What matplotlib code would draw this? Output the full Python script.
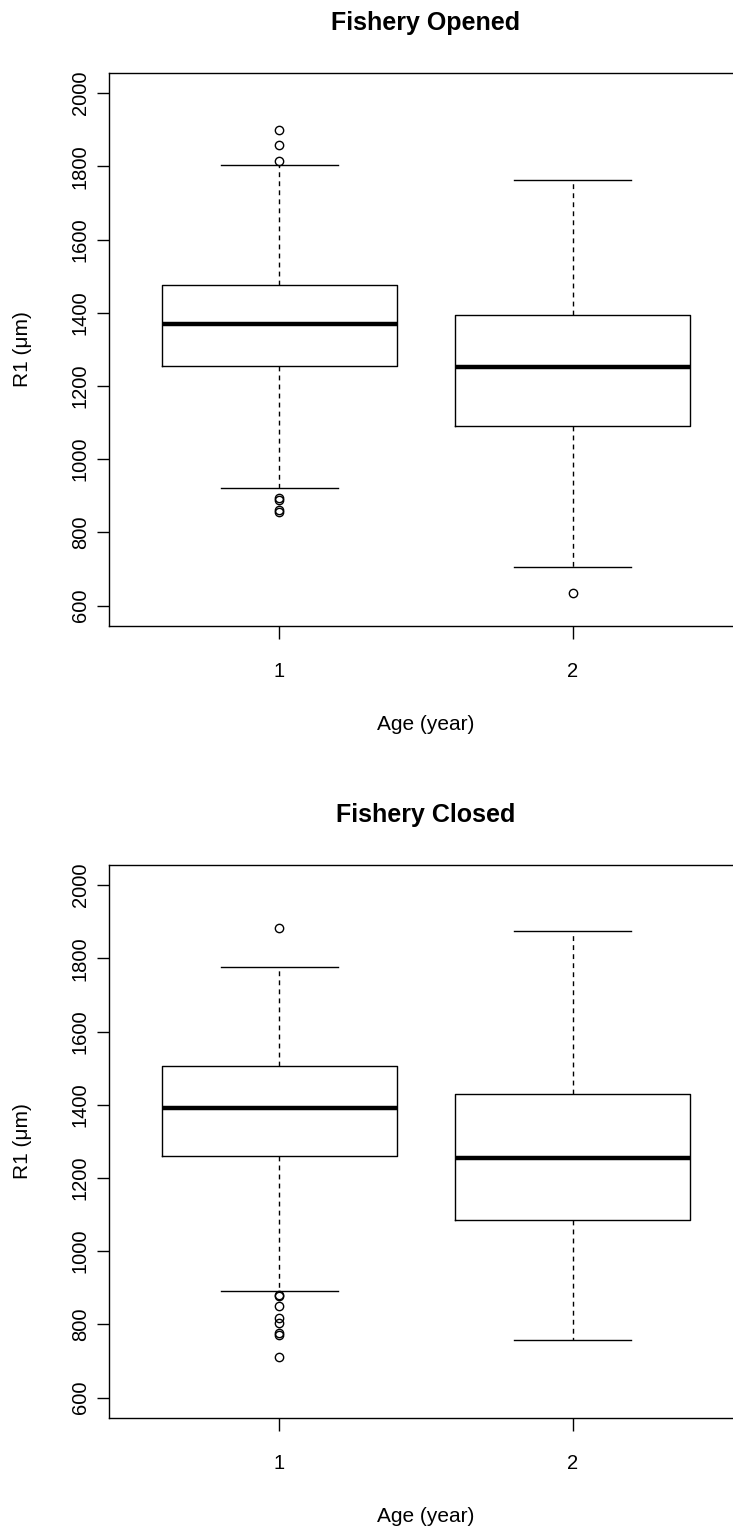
import matplotlib
matplotlib.use("Agg")
from matplotlib import pyplot as plt

plt.rcParams['font.family'] = ['Liberation Sans', 'DejaVu Sans']

# ---------------- data ----------------
ages = [1, 2]
age_labels = ["1", "2"]
y_ticks = [600, 800, 1000, 1200, 1400, 1600, 1800, 2000]

# Fishery opened: [age 1, age 2]
open_q1 = [1255, 1090]
open_med = [1370, 1252]
open_q3 = [1475, 1393]
open_whislo = [920, 706]
open_whishi = [1803, 1763]
open_fliers_1 = [1900, 1859, 1816, 895, 889, 860, 855]
open_fliers_2 = [634]

# Fishery closed: [age 1, age 2]
closed_q1 = [1260, 1086]
closed_med = [1390, 1255]
closed_q3 = [1505, 1430]
closed_whislo = [892, 757]
closed_whishi = [1777, 1875]
closed_fliers_1 = [1884, 881, 877, 850, 818, 804, 776, 771, 712]
closed_fliers_2 = []

panels = [
    ("Fishery Opened", open_q1, open_med, open_q3, open_whislo, open_whishi,
     [open_fliers_1, open_fliers_2]),
    ("Fishery Closed", closed_q1, closed_med, closed_q3, closed_whislo, closed_whishi,
     [closed_fliers_1, closed_fliers_2]),
]

# ---------------- figure ----------------
W, H = 733, 1529
fig = plt.figure(figsize=(W / 100, H / 100), dpi=100)

ax_left = 109.3 / W
ax_width = (742.6 - 109.3) / W
ax_height = 553.3 / H
ax_tops = [72.7, 864.7]

for (title, q1, med, q3, wlo, whi, fliers), top in zip(panels, ax_tops):
    ax = fig.add_axes([ax_left, 1 - (top + 553.3) / H, ax_width, ax_height])

    stats = []
    for i in range(len(ages)):
        stats.append(dict(q1=q1[i], med=med[i], q3=q3[i], whislo=wlo[i],
                          whishi=whi[i], fliers=fliers[i], label=age_labels[i]))

    ax.bxp(stats, positions=ages, widths=0.8, capwidths=0.4,
           boxprops=dict(color="black", linewidth=1.0),
           medianprops=dict(color="black", linewidth=3.2, solid_capstyle="butt"),
           whiskerprops=dict(color="black", linewidth=1.0, linestyle=(0, (3.5, 3))),
           capprops=dict(color="black", linewidth=1.0),
           flierprops=dict(marker="o", markerfacecolor="none", markeredgecolor="black",
                           markersize=6, markeredgewidth=1.0, linestyle="none"))

    ax.set_xlim(0.42, 2.58)
    ax.set_ylim(544, 2056)
    ax.set_xticks(ages)
    ax.set_xticklabels(age_labels)
    ax.set_yticks(y_ticks)
    ax.set_yticklabels([str(v) for v in y_ticks], rotation=90, va="center")

    ax.tick_params(axis="both", labelsize=14.5, length=9, width=1.0, color="black")
    ax.tick_params(axis="y", pad=5)
    ax.tick_params(axis="x", pad=17)
    for sp in ax.spines.values():
        sp.set_linewidth(1.0)

    ax.set_xlabel("Age (year)", fontsize=15)
    ax.xaxis.set_label_coords(0.5, -(725 - 626) / 553.3)
    ax.xaxis.label.set_va("center")
    ax.set_ylabel("R1 (μm)", fontsize=15)
    ax.yaxis.set_label_coords((23 - 109.3) / 633.3, 0.5)
    ax.yaxis.label.set_va("center")

    ax.text(0.5, 1 + 50 / 553.3, title, transform=ax.transAxes, ha="center",
            va="center", fontsize=18, fontweight="bold")

fig.savefig("out.png", dpi=100)
